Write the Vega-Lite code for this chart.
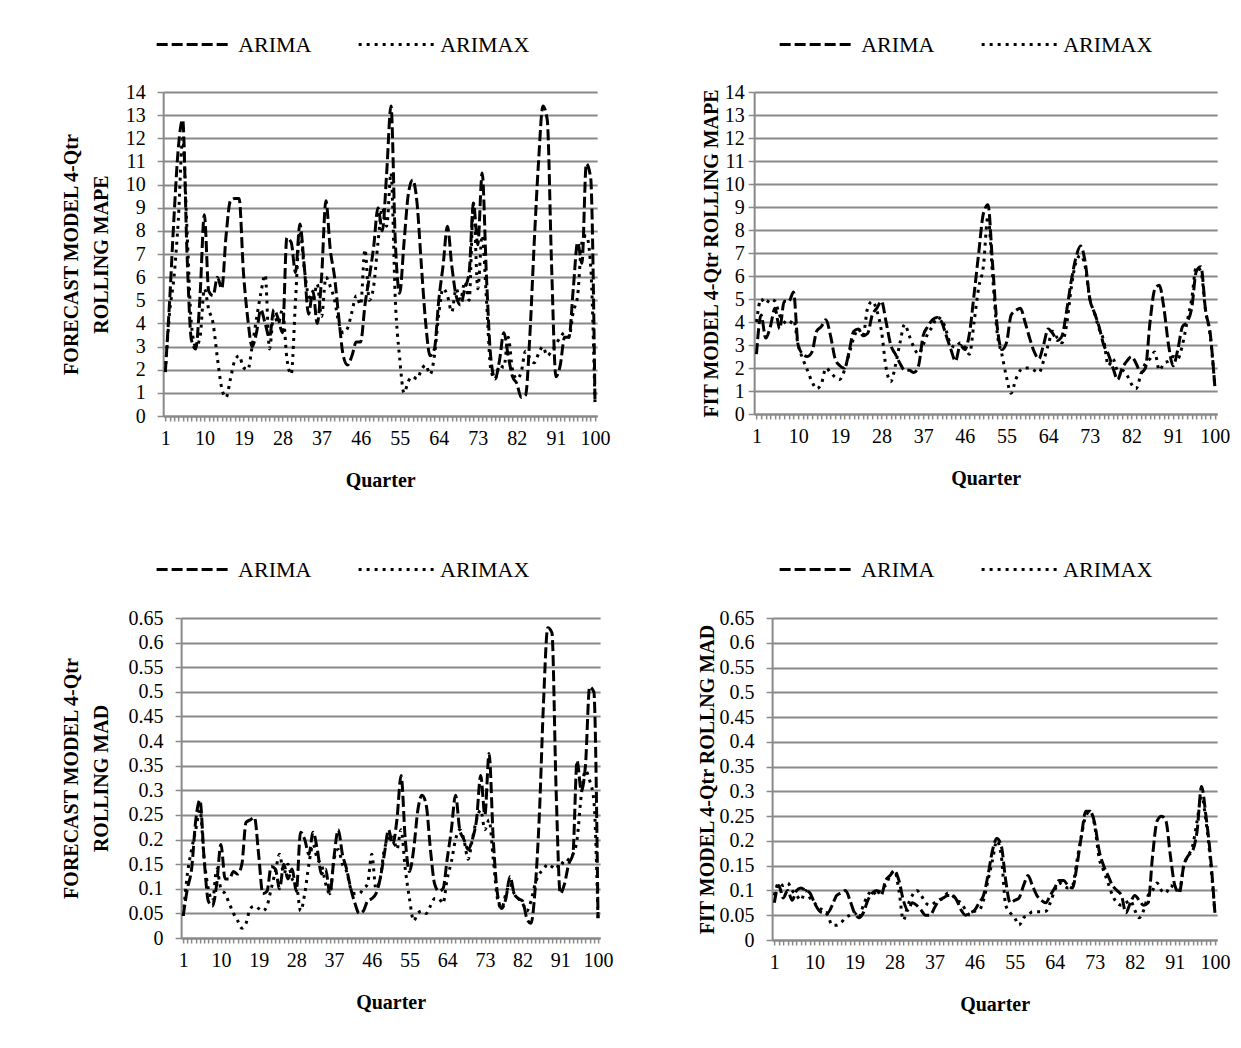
{
  "$schema": "https://vega.github.io/schema/vega-lite/v6.json",
  "background": "white",
  "padding": {"left": 61, "top": 5, "right": 0, "bottom": 5},
  "config": {
    "font": "Liberation Serif",
    "view": {"stroke": null},
    "axis": {
      "labelFont": "Liberation Serif", "labelFontSize": 20, "labelColor": "black",
      "titleFont": "Liberation Serif", "titleFontSize": 20, "titleFontWeight": "bold", "titleColor": "black",
      "domainColor": "#898989", "domainWidth": 2, "tickColor": "#898989", "tickWidth": 1.5,
      "gridColor": "#898989", "gridWidth": 2
    },
    "legend": {
      "labelFont": "Liberation Serif", "labelFontSize": 22, "labelColor": "black",
      "symbolType": "stroke", "symbolStrokeWidth": 3, "symbolStrokeColor": "black", "symbolSize": 5625,
      "labelOffset": 5, "columnPadding": 40, "direction": "horizontal", "orient": "none", "title": null
    },
    "line": {"color": "black", "strokeWidth": 3, "interpolate": "monotone"}
  },
  "datasets": {
    "tl": [
{"q":1,"ARIMA":1.9,"ARIMAX":1.9},{"q":2,"ARIMA":5.0,"ARIMAX":4.5},{"q":3,"ARIMA":8.6,"ARIMAX":6.0},{"q":4,"ARIMA":11.6,"ARIMAX":8.5},{"q":5,"ARIMA":12.8,"ARIMAX":12.0},{"q":6,"ARIMA":7.0,"ARIMAX":8.0},{"q":7,"ARIMA":3.3,"ARIMAX":4.0},{"q":8,"ARIMA":2.9,"ARIMAX":3.0},{"q":9,"ARIMA":5.2,"ARIMAX":3.4},{"q":10,"ARIMA":8.7,"ARIMAX":5.5},
{"q":11,"ARIMA":5.4,"ARIMAX":4.6},{"q":12,"ARIMA":5.2,"ARIMAX":4.0},{"q":13,"ARIMA":6.0,"ARIMAX":2.5},{"q":14,"ARIMA":5.5,"ARIMAX":1.2},{"q":15,"ARIMA":7.8,"ARIMAX":0.8},{"q":16,"ARIMA":9.3,"ARIMAX":1.6},{"q":17,"ARIMA":9.4,"ARIMAX":2.4},{"q":18,"ARIMA":9.4,"ARIMAX":2.6},{"q":19,"ARIMA":6.2,"ARIMAX":2.1},{"q":20,"ARIMA":4.2,"ARIMAX":2.0},
{"q":21,"ARIMA":3.0,"ARIMAX":3.0},{"q":22,"ARIMA":3.6,"ARIMAX":4.2},{"q":23,"ARIMA":4.6,"ARIMAX":5.3},{"q":24,"ARIMA":4.0,"ARIMAX":6.1},{"q":25,"ARIMA":3.4,"ARIMAX":2.9},{"q":26,"ARIMA":4.6,"ARIMAX":4.4},{"q":27,"ARIMA":4.2,"ARIMAX":4.0},{"q":28,"ARIMA":3.6,"ARIMAX":4.6},{"q":29,"ARIMA":7.7,"ARIMAX":2.5},{"q":30,"ARIMA":7.5,"ARIMAX":1.8},
{"q":31,"ARIMA":6.2,"ARIMAX":5.0},{"q":32,"ARIMA":8.3,"ARIMAX":8.0},{"q":33,"ARIMA":6.5,"ARIMAX":6.4},{"q":34,"ARIMA":4.4,"ARIMAX":5.2},{"q":35,"ARIMA":5.4,"ARIMAX":5.0},{"q":36,"ARIMA":4.0,"ARIMAX":5.7},{"q":37,"ARIMA":6.0,"ARIMAX":4.3},{"q":38,"ARIMA":9.3,"ARIMAX":6.0},{"q":39,"ARIMA":7.2,"ARIMAX":5.6},{"q":40,"ARIMA":6.0,"ARIMAX":5.0},
{"q":41,"ARIMA":4.2,"ARIMAX":4.0},{"q":42,"ARIMA":2.6,"ARIMAX":3.6},{"q":43,"ARIMA":2.2,"ARIMAX":3.8},{"q":44,"ARIMA":2.6,"ARIMAX":4.5},{"q":45,"ARIMA":3.2,"ARIMAX":5.2},{"q":46,"ARIMA":3.2,"ARIMAX":4.8},{"q":47,"ARIMA":4.8,"ARIMAX":7.2},{"q":48,"ARIMA":6.0,"ARIMAX":5.0},{"q":49,"ARIMA":7.3,"ARIMAX":5.6},{"q":50,"ARIMA":9.0,"ARIMAX":7.5},
{"q":51,"ARIMA":8.0,"ARIMAX":9.0},{"q":52,"ARIMA":10.5,"ARIMAX":8.2},{"q":53,"ARIMA":13.4,"ARIMAX":10.5},{"q":54,"ARIMA":7.5,"ARIMAX":5.0},{"q":55,"ARIMA":5.3,"ARIMAX":2.5},{"q":56,"ARIMA":7.5,"ARIMAX":1.0},{"q":57,"ARIMA":9.6,"ARIMAX":1.5},{"q":58,"ARIMA":10.2,"ARIMAX":1.7},{"q":59,"ARIMA":9.2,"ARIMAX":1.6},{"q":60,"ARIMA":6.5,"ARIMAX":2.0},
{"q":61,"ARIMA":4.0,"ARIMAX":2.2},{"q":62,"ARIMA":2.6,"ARIMAX":1.8},{"q":63,"ARIMA":2.9,"ARIMAX":2.6},{"q":64,"ARIMA":5.0,"ARIMAX":4.4},{"q":65,"ARIMA":6.5,"ARIMAX":5.5},{"q":66,"ARIMA":8.2,"ARIMAX":5.2},{"q":67,"ARIMA":6.5,"ARIMAX":4.5},{"q":68,"ARIMA":5.2,"ARIMAX":5.5},{"q":69,"ARIMA":4.8,"ARIMAX":5.0},{"q":70,"ARIMA":5.5,"ARIMAX":5.8},
{"q":71,"ARIMA":6.2,"ARIMAX":5.0},{"q":72,"ARIMA":9.2,"ARIMAX":9.2},{"q":73,"ARIMA":7.4,"ARIMAX":5.5},{"q":74,"ARIMA":10.5,"ARIMAX":7.8},{"q":75,"ARIMA":6.0,"ARIMAX":5.0},{"q":76,"ARIMA":2.5,"ARIMAX":2.0},{"q":77,"ARIMA":1.6,"ARIMAX":1.6},{"q":78,"ARIMA":2.4,"ARIMAX":2.2},{"q":79,"ARIMA":3.6,"ARIMAX":2.1},{"q":80,"ARIMA":2.6,"ARIMAX":3.4},
{"q":81,"ARIMA":1.7,"ARIMAX":2.0},{"q":82,"ARIMA":1.4,"ARIMAX":1.6},{"q":83,"ARIMA":0.8,"ARIMAX":1.9},{"q":84,"ARIMA":0.9,"ARIMAX":2.8},{"q":85,"ARIMA":3.5,"ARIMAX":2.5},{"q":86,"ARIMA":7.5,"ARIMAX":2.3},{"q":87,"ARIMA":11.0,"ARIMAX":2.7},{"q":88,"ARIMA":13.4,"ARIMAX":3.0},{"q":89,"ARIMA":12.8,"ARIMAX":2.6},{"q":90,"ARIMA":6.5,"ARIMAX":2.8},
{"q":91,"ARIMA":1.7,"ARIMAX":3.1},{"q":92,"ARIMA":2.2,"ARIMAX":3.4},{"q":93,"ARIMA":3.4,"ARIMAX":3.6},{"q":94,"ARIMA":3.4,"ARIMAX":3.4},{"q":95,"ARIMA":5.5,"ARIMAX":4.5},{"q":96,"ARIMA":7.5,"ARIMAX":5.2},{"q":97,"ARIMA":6.6,"ARIMAX":7.5},{"q":98,"ARIMA":10.9,"ARIMAX":7.8},{"q":99,"ARIMA":10.3,"ARIMAX":6.5},{"q":100,"ARIMA":0.6,"ARIMAX":0.6}
    ],
    "tr": [
{"q":1,"ARIMA":2.6,"ARIMAX":4.0},{"q":2,"ARIMA":4.3,"ARIMAX":5.0},{"q":3,"ARIMA":3.3,"ARIMAX":4.8},{"q":4,"ARIMA":3.8,"ARIMAX":5.0},{"q":5,"ARIMA":4.6,"ARIMAX":4.9},{"q":6,"ARIMA":3.7,"ARIMAX":4.3},{"q":7,"ARIMA":4.9,"ARIMAX":4.0},{"q":8,"ARIMA":4.9,"ARIMAX":3.9},{"q":9,"ARIMA":5.3,"ARIMAX":4.1},{"q":10,"ARIMA":3.0,"ARIMAX":3.0},
{"q":11,"ARIMA":2.6,"ARIMAX":2.4},{"q":12,"ARIMA":2.5,"ARIMAX":1.9},{"q":13,"ARIMA":2.7,"ARIMAX":1.4},{"q":14,"ARIMA":3.6,"ARIMAX":1.1},{"q":15,"ARIMA":3.8,"ARIMAX":1.3},{"q":16,"ARIMA":4.1,"ARIMAX":2.0},{"q":17,"ARIMA":3.4,"ARIMAX":1.8},{"q":18,"ARIMA":2.4,"ARIMAX":1.6},{"q":19,"ARIMA":2.1,"ARIMAX":1.5},{"q":20,"ARIMA":2.0,"ARIMAX":1.9},
{"q":21,"ARIMA":2.7,"ARIMAX":2.6},{"q":22,"ARIMA":3.6,"ARIMAX":3.3},{"q":23,"ARIMA":3.7,"ARIMAX":3.7},{"q":24,"ARIMA":3.4,"ARIMAX":3.4},{"q":25,"ARIMA":3.5,"ARIMAX":4.6},{"q":26,"ARIMA":4.3,"ARIMAX":4.9},{"q":27,"ARIMA":4.6,"ARIMAX":4.5},{"q":28,"ARIMA":4.9,"ARIMAX":3.6},{"q":29,"ARIMA":4.0,"ARIMAX":2.0},{"q":30,"ARIMA":3.0,"ARIMAX":1.4},
{"q":31,"ARIMA":2.6,"ARIMAX":2.1},{"q":32,"ARIMA":2.2,"ARIMAX":3.1},{"q":33,"ARIMA":1.9,"ARIMAX":3.9},{"q":34,"ARIMA":1.9,"ARIMAX":3.4},{"q":35,"ARIMA":1.8,"ARIMAX":2.9},{"q":36,"ARIMA":2.1,"ARIMAX":2.6},{"q":37,"ARIMA":3.4,"ARIMAX":3.0},{"q":38,"ARIMA":3.8,"ARIMAX":3.5},{"q":39,"ARIMA":4.1,"ARIMAX":3.8},{"q":40,"ARIMA":4.2,"ARIMAX":4.2},
{"q":41,"ARIMA":4.0,"ARIMAX":4.1},{"q":42,"ARIMA":3.4,"ARIMAX":3.6},{"q":43,"ARIMA":2.8,"ARIMAX":3.0},{"q":44,"ARIMA":2.3,"ARIMAX":2.9},{"q":45,"ARIMA":3.0,"ARIMAX":3.1},{"q":46,"ARIMA":2.8,"ARIMAX":2.9},{"q":47,"ARIMA":3.5,"ARIMAX":2.6},{"q":48,"ARIMA":5.2,"ARIMAX":4.0},{"q":49,"ARIMA":7.0,"ARIMAX":5.5},{"q":50,"ARIMA":8.7,"ARIMAX":6.4},
{"q":51,"ARIMA":9.1,"ARIMAX":8.6},{"q":52,"ARIMA":6.5,"ARIMAX":6.0},{"q":53,"ARIMA":3.8,"ARIMAX":3.5},{"q":54,"ARIMA":2.8,"ARIMAX":2.6},{"q":55,"ARIMA":3.1,"ARIMAX":1.6},{"q":56,"ARIMA":4.3,"ARIMAX":0.9},{"q":57,"ARIMA":4.5,"ARIMAX":1.5},{"q":58,"ARIMA":4.6,"ARIMAX":1.9},{"q":59,"ARIMA":4.0,"ARIMAX":2.0},{"q":60,"ARIMA":3.3,"ARIMAX":2.0},
{"q":61,"ARIMA":2.7,"ARIMAX":1.9},{"q":62,"ARIMA":2.4,"ARIMAX":1.8},{"q":63,"ARIMA":3.0,"ARIMAX":2.3},{"q":64,"ARIMA":3.7,"ARIMAX":3.0},{"q":65,"ARIMA":3.5,"ARIMAX":3.6},{"q":66,"ARIMA":3.2,"ARIMAX":3.3},{"q":67,"ARIMA":3.4,"ARIMAX":3.1},{"q":68,"ARIMA":4.5,"ARIMAX":3.9},{"q":69,"ARIMA":5.8,"ARIMAX":5.5},{"q":70,"ARIMA":6.8,"ARIMAX":6.6},
{"q":71,"ARIMA":7.3,"ARIMAX":6.9},{"q":72,"ARIMA":6.6,"ARIMAX":6.4},{"q":73,"ARIMA":5.0,"ARIMAX":5.0},{"q":74,"ARIMA":4.4,"ARIMAX":4.4},{"q":75,"ARIMA":3.8,"ARIMAX":3.7},{"q":76,"ARIMA":3.0,"ARIMAX":3.2},{"q":77,"ARIMA":2.6,"ARIMAX":2.1},{"q":78,"ARIMA":2.0,"ARIMAX":2.4},{"q":79,"ARIMA":1.5,"ARIMAX":1.9},{"q":80,"ARIMA":2.0,"ARIMAX":1.9},
{"q":81,"ARIMA":2.3,"ARIMAX":1.7},{"q":82,"ARIMA":2.5,"ARIMAX":1.3},{"q":83,"ARIMA":2.2,"ARIMAX":1.1},{"q":84,"ARIMA":1.8,"ARIMAX":1.7},{"q":85,"ARIMA":2.0,"ARIMAX":2.2},{"q":86,"ARIMA":4.0,"ARIMAX":2.4},{"q":87,"ARIMA":5.4,"ARIMAX":2.7},{"q":88,"ARIMA":5.6,"ARIMAX":1.9},{"q":89,"ARIMA":4.6,"ARIMAX":2.2},{"q":90,"ARIMA":3.0,"ARIMAX":2.3},
{"q":91,"ARIMA":2.1,"ARIMAX":2.5},{"q":92,"ARIMA":2.8,"ARIMAX":2.4},{"q":93,"ARIMA":3.8,"ARIMAX":3.0},{"q":94,"ARIMA":4.0,"ARIMAX":4.0},{"q":95,"ARIMA":4.6,"ARIMAX":5.0},{"q":96,"ARIMA":6.2,"ARIMAX":6.4},{"q":97,"ARIMA":6.4,"ARIMAX":6.2},{"q":98,"ARIMA":4.5,"ARIMAX":4.5},{"q":99,"ARIMA":3.5,"ARIMAX":3.4},{"q":100,"ARIMA":1.2,"ARIMAX":1.2}
    ],
    "bl": [
{"q":1,"ARIMA":0.045,"ARIMAX":0.045},{"q":2,"ARIMA":0.10,"ARIMAX":0.13},{"q":3,"ARIMA":0.14,"ARIMAX":0.18},{"q":4,"ARIMA":0.24,"ARIMAX":0.22},{"q":5,"ARIMA":0.28,"ARIMAX":0.26},{"q":6,"ARIMA":0.16,"ARIMAX":0.16},{"q":7,"ARIMA":0.075,"ARIMAX":0.10},{"q":8,"ARIMA":0.065,"ARIMAX":0.075},{"q":9,"ARIMA":0.11,"ARIMAX":0.14},{"q":10,"ARIMA":0.19,"ARIMAX":0.10},
{"q":11,"ARIMA":0.12,"ARIMAX":0.09},{"q":12,"ARIMA":0.12,"ARIMAX":0.07},{"q":13,"ARIMA":0.135,"ARIMAX":0.05},{"q":14,"ARIMA":0.13,"ARIMAX":0.035},{"q":15,"ARIMA":0.15,"ARIMAX":0.02},{"q":16,"ARIMA":0.235,"ARIMAX":0.03},{"q":17,"ARIMA":0.24,"ARIMAX":0.06},{"q":18,"ARIMA":0.245,"ARIMAX":0.065},{"q":19,"ARIMA":0.17,"ARIMAX":0.06},{"q":20,"ARIMA":0.09,"ARIMAX":0.055},
{"q":21,"ARIMA":0.095,"ARIMAX":0.065},{"q":22,"ARIMA":0.145,"ARIMAX":0.10},{"q":23,"ARIMA":0.14,"ARIMAX":0.135},{"q":24,"ARIMA":0.10,"ARIMAX":0.17},{"q":25,"ARIMA":0.15,"ARIMAX":0.13},{"q":26,"ARIMA":0.12,"ARIMAX":0.15},{"q":27,"ARIMA":0.14,"ARIMAX":0.12},{"q":28,"ARIMA":0.095,"ARIMAX":0.11},{"q":29,"ARIMA":0.215,"ARIMAX":0.055},{"q":30,"ARIMA":0.20,"ARIMAX":0.09},
{"q":31,"ARIMA":0.17,"ARIMAX":0.15},{"q":32,"ARIMA":0.215,"ARIMAX":0.19},{"q":33,"ARIMA":0.18,"ARIMAX":0.16},{"q":34,"ARIMA":0.13,"ARIMAX":0.15},{"q":35,"ARIMA":0.14,"ARIMAX":0.11},{"q":36,"ARIMA":0.09,"ARIMAX":0.09},{"q":37,"ARIMA":0.165,"ARIMAX":0.16},{"q":38,"ARIMA":0.22,"ARIMAX":0.18},{"q":39,"ARIMA":0.17,"ARIMAX":0.15},{"q":40,"ARIMA":0.14,"ARIMAX":0.135},
{"q":41,"ARIMA":0.10,"ARIMAX":0.10},{"q":42,"ARIMA":0.07,"ARIMAX":0.09},{"q":43,"ARIMA":0.05,"ARIMAX":0.09},{"q":44,"ARIMA":0.055,"ARIMAX":0.10},{"q":45,"ARIMA":0.075,"ARIMAX":0.11},{"q":46,"ARIMA":0.08,"ARIMAX":0.17},{"q":47,"ARIMA":0.09,"ARIMAX":0.10},{"q":48,"ARIMA":0.12,"ARIMAX":0.12},{"q":49,"ARIMA":0.17,"ARIMAX":0.18},{"q":50,"ARIMA":0.22,"ARIMAX":0.20},
{"q":51,"ARIMA":0.19,"ARIMAX":0.21},{"q":52,"ARIMA":0.24,"ARIMAX":0.18},{"q":53,"ARIMA":0.33,"ARIMAX":0.22},{"q":54,"ARIMA":0.20,"ARIMAX":0.14},{"q":55,"ARIMA":0.135,"ARIMAX":0.08},{"q":56,"ARIMA":0.18,"ARIMAX":0.035},{"q":57,"ARIMA":0.26,"ARIMAX":0.05},{"q":58,"ARIMA":0.29,"ARIMAX":0.055},{"q":59,"ARIMA":0.27,"ARIMAX":0.05},{"q":60,"ARIMA":0.18,"ARIMAX":0.065},
{"q":61,"ARIMA":0.11,"ARIMAX":0.08},{"q":62,"ARIMA":0.095,"ARIMAX":0.08},{"q":63,"ARIMA":0.10,"ARIMAX":0.07},{"q":64,"ARIMA":0.16,"ARIMAX":0.12},{"q":65,"ARIMA":0.22,"ARIMAX":0.155},{"q":66,"ARIMA":0.29,"ARIMAX":0.20},{"q":67,"ARIMA":0.22,"ARIMAX":0.22},{"q":68,"ARIMA":0.20,"ARIMAX":0.20},{"q":69,"ARIMA":0.18,"ARIMAX":0.16},{"q":70,"ARIMA":0.20,"ARIMAX":0.20},
{"q":71,"ARIMA":0.24,"ARIMAX":0.24},{"q":72,"ARIMA":0.33,"ARIMAX":0.26},{"q":73,"ARIMA":0.25,"ARIMAX":0.22},{"q":74,"ARIMA":0.375,"ARIMAX":0.24},{"q":75,"ARIMA":0.20,"ARIMAX":0.16},{"q":76,"ARIMA":0.09,"ARIMAX":0.08},{"q":77,"ARIMA":0.06,"ARIMAX":0.06},{"q":78,"ARIMA":0.08,"ARIMAX":0.09},{"q":79,"ARIMA":0.125,"ARIMAX":0.11},{"q":80,"ARIMA":0.09,"ARIMAX":0.09},
{"q":81,"ARIMA":0.08,"ARIMAX":0.08},{"q":82,"ARIMA":0.075,"ARIMAX":0.07},{"q":83,"ARIMA":0.04,"ARIMAX":0.055},{"q":84,"ARIMA":0.03,"ARIMAX":0.075},{"q":85,"ARIMA":0.10,"ARIMAX":0.11},{"q":86,"ARIMA":0.25,"ARIMAX":0.13},{"q":87,"ARIMA":0.48,"ARIMAX":0.14},{"q":88,"ARIMA":0.63,"ARIMAX":0.15},{"q":89,"ARIMA":0.62,"ARIMAX":0.145},{"q":90,"ARIMA":0.30,"ARIMAX":0.14},
{"q":91,"ARIMA":0.09,"ARIMAX":0.155},{"q":92,"ARIMA":0.11,"ARIMAX":0.15},{"q":93,"ARIMA":0.15,"ARIMAX":0.16},{"q":94,"ARIMA":0.17,"ARIMAX":0.17},{"q":95,"ARIMA":0.36,"ARIMAX":0.20},{"q":96,"ARIMA":0.30,"ARIMAX":0.29},{"q":97,"ARIMA":0.35,"ARIMAX":0.34},{"q":98,"ARIMA":0.51,"ARIMAX":0.32},{"q":99,"ARIMA":0.50,"ARIMAX":0.28},{"q":100,"ARIMA":0.04,"ARIMAX":0.04}
    ],
    "br": [
{"q":1,"ARIMA":0.075,"ARIMAX":0.09},{"q":2,"ARIMA":0.11,"ARIMAX":0.115},{"q":3,"ARIMA":0.085,"ARIMAX":0.11},{"q":4,"ARIMA":0.10,"ARIMAX":0.115},{"q":5,"ARIMA":0.08,"ARIMAX":0.10},{"q":6,"ARIMA":0.10,"ARIMAX":0.09},{"q":7,"ARIMA":0.105,"ARIMAX":0.08},{"q":8,"ARIMA":0.10,"ARIMAX":0.10},{"q":9,"ARIMA":0.095,"ARIMAX":0.085},{"q":10,"ARIMA":0.075,"ARIMAX":0.075},
{"q":11,"ARIMA":0.06,"ARIMAX":0.065},{"q":12,"ARIMA":0.055,"ARIMAX":0.06},{"q":13,"ARIMA":0.055,"ARIMAX":0.05},{"q":14,"ARIMA":0.07,"ARIMAX":0.03},{"q":15,"ARIMA":0.09,"ARIMAX":0.03},{"q":16,"ARIMA":0.095,"ARIMAX":0.035},{"q":17,"ARIMA":0.10,"ARIMAX":0.045},{"q":18,"ARIMA":0.08,"ARIMAX":0.05},{"q":19,"ARIMA":0.055,"ARIMAX":0.055},{"q":20,"ARIMA":0.045,"ARIMAX":0.045},
{"q":21,"ARIMA":0.055,"ARIMAX":0.07},{"q":22,"ARIMA":0.08,"ARIMAX":0.09},{"q":23,"ARIMA":0.095,"ARIMAX":0.10},{"q":24,"ARIMA":0.10,"ARIMAX":0.09},{"q":25,"ARIMA":0.09,"ARIMAX":0.105},{"q":26,"ARIMA":0.12,"ARIMAX":0.11},{"q":27,"ARIMA":0.13,"ARIMAX":0.13},{"q":28,"ARIMA":0.14,"ARIMAX":0.14},{"q":29,"ARIMA":0.12,"ARIMAX":0.10},{"q":30,"ARIMA":0.08,"ARIMAX":0.04},
{"q":31,"ARIMA":0.06,"ARIMAX":0.07},{"q":32,"ARIMA":0.075,"ARIMAX":0.09},{"q":33,"ARIMA":0.07,"ARIMAX":0.10},{"q":34,"ARIMA":0.06,"ARIMAX":0.09},{"q":35,"ARIMA":0.05,"ARIMAX":0.075},{"q":36,"ARIMA":0.05,"ARIMAX":0.07},{"q":37,"ARIMA":0.065,"ARIMAX":0.075},{"q":38,"ARIMA":0.08,"ARIMAX":0.08},{"q":39,"ARIMA":0.085,"ARIMAX":0.085},{"q":40,"ARIMA":0.09,"ARIMAX":0.095},
{"q":41,"ARIMA":0.09,"ARIMAX":0.09},{"q":42,"ARIMA":0.08,"ARIMAX":0.08},{"q":43,"ARIMA":0.06,"ARIMAX":0.075},{"q":44,"ARIMA":0.05,"ARIMAX":0.06},{"q":45,"ARIMA":0.055,"ARIMAX":0.05},{"q":46,"ARIMA":0.06,"ARIMAX":0.058},{"q":47,"ARIMA":0.075,"ARIMAX":0.06},{"q":48,"ARIMA":0.09,"ARIMAX":0.08},{"q":49,"ARIMA":0.13,"ARIMAX":0.12},{"q":50,"ARIMA":0.18,"ARIMAX":0.16},
{"q":51,"ARIMA":0.205,"ARIMAX":0.20},{"q":52,"ARIMA":0.19,"ARIMAX":0.17},{"q":53,"ARIMA":0.12,"ARIMAX":0.07},{"q":54,"ARIMA":0.075,"ARIMAX":0.055},{"q":55,"ARIMA":0.08,"ARIMAX":0.045},{"q":56,"ARIMA":0.085,"ARIMAX":0.03},{"q":57,"ARIMA":0.11,"ARIMAX":0.045},{"q":58,"ARIMA":0.13,"ARIMAX":0.05},{"q":59,"ARIMA":0.11,"ARIMAX":0.057},{"q":60,"ARIMA":0.09,"ARIMAX":0.057},
{"q":61,"ARIMA":0.08,"ARIMAX":0.057},{"q":62,"ARIMA":0.075,"ARIMAX":0.058},{"q":63,"ARIMA":0.09,"ARIMAX":0.075},{"q":64,"ARIMA":0.105,"ARIMAX":0.10},{"q":65,"ARIMA":0.12,"ARIMAX":0.115},{"q":66,"ARIMA":0.12,"ARIMAX":0.11},{"q":67,"ARIMA":0.11,"ARIMAX":0.105},{"q":68,"ARIMA":0.105,"ARIMAX":0.11},{"q":69,"ARIMA":0.15,"ARIMAX":0.16},{"q":70,"ARIMA":0.21,"ARIMAX":0.21},
{"q":71,"ARIMA":0.26,"ARIMAX":0.25},{"q":72,"ARIMA":0.26,"ARIMAX":0.26},{"q":73,"ARIMA":0.235,"ARIMAX":0.23},{"q":74,"ARIMA":0.18,"ARIMAX":0.165},{"q":75,"ARIMA":0.15,"ARIMAX":0.14},{"q":76,"ARIMA":0.13,"ARIMAX":0.115},{"q":77,"ARIMA":0.11,"ARIMAX":0.09},{"q":78,"ARIMA":0.10,"ARIMAX":0.075},{"q":79,"ARIMA":0.09,"ARIMAX":0.07},{"q":80,"ARIMA":0.055,"ARIMAX":0.075},
{"q":81,"ARIMA":0.075,"ARIMAX":0.08},{"q":82,"ARIMA":0.09,"ARIMAX":0.06},{"q":83,"ARIMA":0.08,"ARIMAX":0.045},{"q":84,"ARIMA":0.07,"ARIMAX":0.06},{"q":85,"ARIMA":0.075,"ARIMAX":0.09},{"q":86,"ARIMA":0.17,"ARIMAX":0.10},{"q":87,"ARIMA":0.24,"ARIMAX":0.115},{"q":88,"ARIMA":0.25,"ARIMAX":0.10},{"q":89,"ARIMA":0.24,"ARIMAX":0.095},{"q":90,"ARIMA":0.17,"ARIMAX":0.11},
{"q":91,"ARIMA":0.11,"ARIMAX":0.105},{"q":92,"ARIMA":0.095,"ARIMAX":0.10},{"q":93,"ARIMA":0.15,"ARIMAX":0.15},{"q":94,"ARIMA":0.17,"ARIMAX":0.17},{"q":95,"ARIMA":0.18,"ARIMAX":0.19},{"q":96,"ARIMA":0.22,"ARIMAX":0.24},{"q":97,"ARIMA":0.31,"ARIMAX":0.29},{"q":98,"ARIMA":0.25,"ARIMAX":0.24},{"q":99,"ARIMA":0.17,"ARIMAX":0.16},{"q":100,"ARIMA":0.055,"ARIMAX":0.055}
    ]
  },
  "resolve": {"scale": {"strokeDash": "independent"}, "legend": {"strokeDash": "independent"}},
  "center": true,
  "spacing": 40,
  "vconcat": [
    {
      "spacing": 91,
      "resolve": {"scale": {"strokeDash": "independent"}, "legend": {"strokeDash": "independent"}},
      "hconcat": [
        {
          "width": 434, "height": 324,
          "data": {"name": "tl"},
          "transform": [{"fold": ["ARIMA", "ARIMAX"], "as": ["model", "value"]}],
          "mark": {"type": "line"},
          "encoding": {
            "x": {"field": "q", "type": "quantitative", "scale": {"domain": [0.5, 100.5], "nice": false, "zero": false},
              "axis": {"title": "Quarter", "tickCount": 100, "grid": false, "labelOverlap": false, "labelFlush": false, "tickSize": 5, "labelPadding": 7, "titlePadding": 22,
                "labelExpr": "(datum.value - 1) % 9 == 0 ? datum.label : ''"}},
            "y": {"field": "value", "type": "quantitative", "scale": {"domain": [0, 14], "nice": false},
              "axis": {"title": ["FORECAST MODEL 4-Qtr", "ROLLING MAPE"], "tickCount": 14, "tickSize": 6, "labelPadding": 12, "titlePadding": 14, "titleLineHeight": 30}},
            "strokeDash": {"field": "model", "type": "nominal", "scale": {"domain": ["ARIMA", "ARIMAX"], "range": [[11, 4], [3, 5]]},
              "legend": {"legendX": -8, "legendY": -86.5}}
          }
        },
        {
          "width": 463, "height": 322,
          "title": {"text": " ", "orient": "right", "offset": 16, "fontSize": 2, "color": "white"},
          "data": {"name": "tr"},
          "transform": [{"fold": ["ARIMA", "ARIMAX"], "as": ["model", "value"]}],
          "mark": {"type": "line"},
          "encoding": {
            "x": {"field": "q", "type": "quantitative", "scale": {"domain": [0.5, 100.5], "nice": false, "zero": false},
              "axis": {"title": "Quarter", "tickCount": 100, "grid": false, "labelOverlap": false, "labelFlush": false, "tickSize": 5, "labelPadding": 7, "titlePadding": 22,
                "labelExpr": "(datum.value - 1) % 9 == 0 ? datum.label : ''"}},
            "y": {"field": "value", "type": "quantitative", "scale": {"domain": [0, 14], "nice": false},
              "axis": {"title": "FIT MODEL 4-Qtr ROLLING MAPE", "tickCount": 14, "tickSize": 6, "labelPadding": 4, "titlePadding": 3}},
            "strokeDash": {"field": "model", "type": "nominal", "scale": {"domain": ["ARIMA", "ARIMAX"], "range": [[11, 4], [3, 5]]},
              "legend": {"legendX": 24, "legendY": -86.5}}
          }
        }
      ]
    },
    {
      "spacing": 84,
      "resolve": {"scale": {"strokeDash": "independent"}, "legend": {"strokeDash": "independent"}},
      "hconcat": [
        {
          "width": 419, "height": 320,
          "data": {"name": "bl"},
          "transform": [{"fold": ["ARIMA", "ARIMAX"], "as": ["model", "value"]}],
          "mark": {"type": "line"},
          "encoding": {
            "x": {"field": "q", "type": "quantitative", "scale": {"domain": [0.5, 100.5], "nice": false, "zero": false},
              "axis": {"title": "Quarter", "tickCount": 100, "grid": false, "labelOverlap": false, "labelFlush": false, "tickSize": 5, "labelPadding": 7, "titlePadding": 22,
                "labelExpr": "(datum.value - 1) % 9 == 0 ? datum.label : ''"}},
            "y": {"field": "value", "type": "quantitative", "scale": {"domain": [0, 0.65], "nice": false},
              "axis": {"title": ["FORECAST MODEL 4-Qtr", "ROLLING MAD"], "values": [0, 0.05, 0.1, 0.15, 0.2, 0.25, 0.3, 0.35, 0.4, 0.45, 0.5, 0.55, 0.6, 0.65], "format": ".2~f", "tickSize": 6, "labelPadding": 12, "titlePadding": 17, "titleLineHeight": 30}},
            "strokeDash": {"field": "model", "type": "nominal", "scale": {"domain": ["ARIMA", "ARIMAX"], "range": [[11, 4], [3, 5]]},
              "legend": {"legendX": -26, "legendY": -87.5}}
          }
        },
        {
          "width": 445, "height": 322,
          "data": {"name": "br"},
          "transform": [{"fold": ["ARIMA", "ARIMAX"], "as": ["model", "value"]}],
          "mark": {"type": "line"},
          "encoding": {
            "x": {"field": "q", "type": "quantitative", "scale": {"domain": [0.5, 100.5], "nice": false, "zero": false},
              "axis": {"title": "Quarter", "tickCount": 100, "grid": false, "labelOverlap": false, "labelFlush": false, "tickSize": 5, "labelPadding": 7, "titlePadding": 22,
                "labelExpr": "(datum.value - 1) % 9 == 0 ? datum.label : ''"}},
            "y": {"field": "value", "type": "quantitative", "scale": {"domain": [0, 0.65], "nice": false},
              "axis": {"title": "FIT MODEL 4-Qtr ROLLNG MAD", "values": [0, 0.05, 0.1, 0.15, 0.2, 0.25, 0.3, 0.35, 0.4, 0.45, 0.5, 0.55, 0.6, 0.65], "format": ".2~f", "tickSize": 6, "labelPadding": 12, "titlePadding": 2}},
            "strokeDash": {"field": "model", "type": "nominal", "scale": {"domain": ["ARIMA", "ARIMAX"], "range": [[11, 4], [3, 5]]},
              "legend": {"legendX": 6, "legendY": -87.5}}
          }
        }
      ]
    }
  ]
}
